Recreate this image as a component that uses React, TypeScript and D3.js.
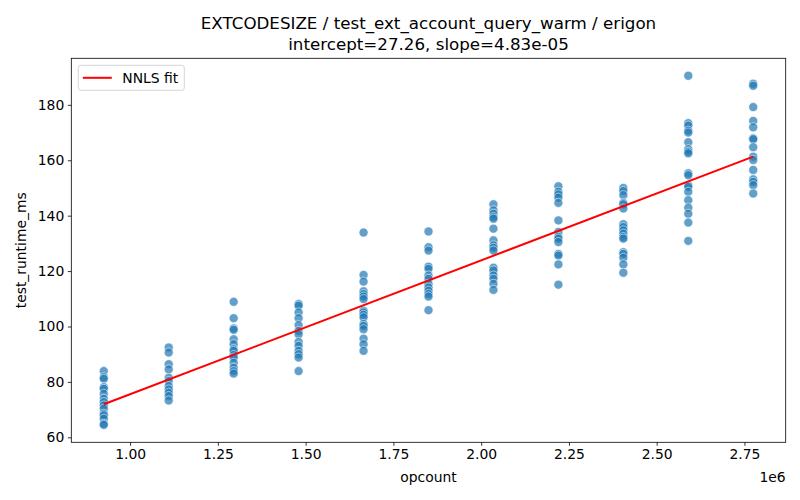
import React, { useRef, useEffect } from "react";
import * as d3 from "d3";

// opcount of each group and the measured runtimes
const opcounts = [925000, 1110000, 1295000, 1480000, 1665000, 1850000, 2035000, 2220000, 2405000, 2590000, 2775000];
const runtimes: number[][] = [
  [83.9, 81.7, 81.1, 78.1, 77.5, 75.7, 73.9, 72.7, 71.5, 70.3, 68.5, 67.9, 66.7, 64.9, 64.5],
  [92.4, 90.6, 86.4, 84.5, 81.5, 80.3, 78.5, 77.3, 76.1, 74.9, 73.3],
  [108.9, 103.0, 99.3, 98.8, 95.4, 93.6, 91.8, 91.2, 89.7, 88.8, 86.9, 85.1, 83.9, 83.0],
  [108.1, 107.5, 105.1, 103.0, 100.5, 98.4, 97.2, 94.4, 93.0, 91.2, 90.0, 88.8, 83.9],
  [133.9, 118.6, 116.2, 112.7, 111.7, 110.8, 109.9, 105.7, 105.1, 104.2, 103.3, 100.9, 100.2, 99.0, 95.6, 93.6, 91.2],
  [134.3, 128.6, 127.4, 121.6, 120.8, 118.4, 117.2, 115.4, 114.1, 112.9, 111.7, 110.8, 105.9],
  [144.1, 141.9, 140.7, 139.5, 138.9, 135.3, 131.1, 129.3, 128.4, 127.4, 121.2, 120.2, 118.4, 117.2, 115.4, 113.2],
  [150.6, 148.6, 147.7, 146.5, 144.6, 138.3, 134.1, 132.3, 131.7, 130.5, 126.2, 125.6, 122.4, 115.1],
  [150.0, 148.9, 147.4, 144.6, 144.1, 142.6, 136.9, 135.9, 134.7, 133.5, 132.3, 131.7, 126.8, 126.2, 124.8, 122.4, 119.4],
  [190.5, 173.4, 172.5, 170.7, 170.0, 166.5, 164.0, 163.1, 162.5, 155.3, 154.6, 151.0, 150.4, 148.6, 145.6, 142.9, 140.7, 137.5, 130.9],
  [187.6, 186.9, 179.2, 174.2, 171.9, 167.9, 167.6, 164.7, 161.3, 160.1, 156.5, 153.1, 152.2, 151.0, 148.0],
];
const intercept = 27.26;
const slope = 4.83e-5;
const xTicks = [1.0, 1.25, 1.5, 1.75, 2.0, 2.25, 2.5, 2.75];
const yTicks = [60, 80, 100, 120, 140, 160, 180];

const W = 800;
const H = 500;
const FONT = "'DejaVu Sans', sans-serif";

const App: React.FC = () => {
  const ref = useRef<SVGSVGElement>(null);

  useEffect(() => {
    if (!ref.current) return;
    const svg = d3.select(ref.current);
    svg.selectAll("*").remove();

    const margin = { top: 58.3, right: 14.3, bottom: 57.7, left: 71.3 };
    const width = W - margin.left - margin.right;
    const height = H - margin.top - margin.bottom;

    const points = opcounts.flatMap((x, i) => runtimes[i].map((y) => ({ x, y })));

    // matplotlib style 5% margins
    const pad = (ext: [number, number]) => {
      const d = (ext[1] - ext[0]) * 0.05;
      return [ext[0] - d, ext[1] + d];
    };
    const x = d3
      .scaleLinear()
      .domain(pad(d3.extent(opcounts) as [number, number]))
      .range([0, width]);
    const y = d3
      .scaleLinear()
      .domain(pad(d3.extent(points, (d) => d.y) as [number, number]))
      .range([height, 0]);

    const g = svg.append("g").attr("transform", `translate(${margin.left},${margin.top})`);

    // axes
    const xAxis = g
      .append("g")
      .attr("transform", `translate(0,${height})`)
      .call(
        d3
          .axisBottom(x)
          .tickValues(xTicks.map((t) => t * 1e6))
          .tickFormat((d) => ((d as number) / 1e6).toFixed(2))
          .tickSize(3.5)
          .tickPadding(3.5)
      );
    const yAxis = g.append("g").call(
      d3.axisLeft(y).tickValues(yTicks).tickFormat(d3.format("d")).tickSize(3.5).tickPadding(3.5)
    );
    [xAxis, yAxis].forEach((a) => {
      a.select(".domain").remove();
      a.selectAll("text").attr("font-family", FONT).attr("font-size", 13.9).attr("fill", "#000");
      a.selectAll("line").attr("stroke", "#000").attr("stroke-width", 0.8);
    });

    // scatter
    g.append("g")
      .selectAll("circle")
      .data(points)
      .join("circle")
      .attr("cx", (d) => x(d.x))
      .attr("cy", (d) => y(d.y))
      .attr("r", 4.5)
      .attr("fill", "rgba(31,119,180,0.7)")
      .attr("stroke", "rgba(255,255,255,0.7)")
      .attr("stroke-width", 0.75);

    // fit line
    const xs = d3.extent(opcounts) as [number, number];
    const line = d3
      .line<number>()
      .x((d) => x(d))
      .y((d) => y(intercept + slope * d));
    g.append("path")
      .datum(xs)
      .attr("fill", "none")
      .attr("stroke", "#ff0000")
      .attr("stroke-width", 2)
      .attr("d", line);

    // frame
    g.append("rect")
      .attr("width", width)
      .attr("height", height)
      .attr("fill", "none")
      .attr("stroke", "#000")
      .attr("stroke-width", 0.8);

    // legend
    const leg = g.append("g").attr("transform", "translate(7,7)");
    leg.append("rect")
      .attr("width", 106)
      .attr("height", 25)
      .attr("rx", 2.5)
      .attr("fill", "rgba(255,255,255,0.8)")
      .attr("stroke", "#cccccc")
      .attr("stroke-width", 0.8);
    leg.append("line")
      .attr("x1", 4.5)
      .attr("x2", 33.5)
      .attr("y1", 12.5)
      .attr("y2", 12.5)
      .attr("stroke", "#ff0000")
      .attr("stroke-width", 2);
    leg.append("text")
      .attr("x", 44)
      .attr("y", 17.3)
      .attr("font-family", FONT)
      .attr("font-size", 13.9)
      .text("NNLS fit");

    // titles and labels
    const cx = margin.left + width / 2;
    svg.append("text")
      .attr("x", cx)
      .attr("y", 29)
      .attr("text-anchor", "middle")
      .attr("font-family", FONT)
      .attr("font-size", 16.7)
      .text("EXTCODESIZE / test_ext_account_query_warm / erigon");
    svg.append("text")
      .attr("x", cx)
      .attr("y", 50)
      .attr("text-anchor", "middle")
      .attr("font-family", FONT)
      .attr("font-size", 16.7)
      .text("intercept=27.26, slope=4.83e-05");
    svg.append("text")
      .attr("x", cx)
      .attr("y", 482)
      .attr("text-anchor", "middle")
      .attr("font-family", FONT)
      .attr("font-size", 13.9)
      .text("opcount");
    svg.append("text")
      .attr("x", margin.left + width)
      .attr("y", 482)
      .attr("text-anchor", "end")
      .attr("font-family", FONT)
      .attr("font-size", 13.9)
      .text("1e6");
    svg.append("text")
      .attr("transform", `translate(25.5,${margin.top + height / 2}) rotate(-90)`)
      .attr("text-anchor", "middle")
      .attr("font-family", FONT)
      .attr("font-size", 13.9)
      .text("test_runtime_ms");
  }, []);

  return (
    <svg
      ref={ref}
      width={W}
      height={H}
      style={{ position: "absolute", left: 0, top: 0, background: "#fff" }}
    ></svg>
  );
};

export default App;
